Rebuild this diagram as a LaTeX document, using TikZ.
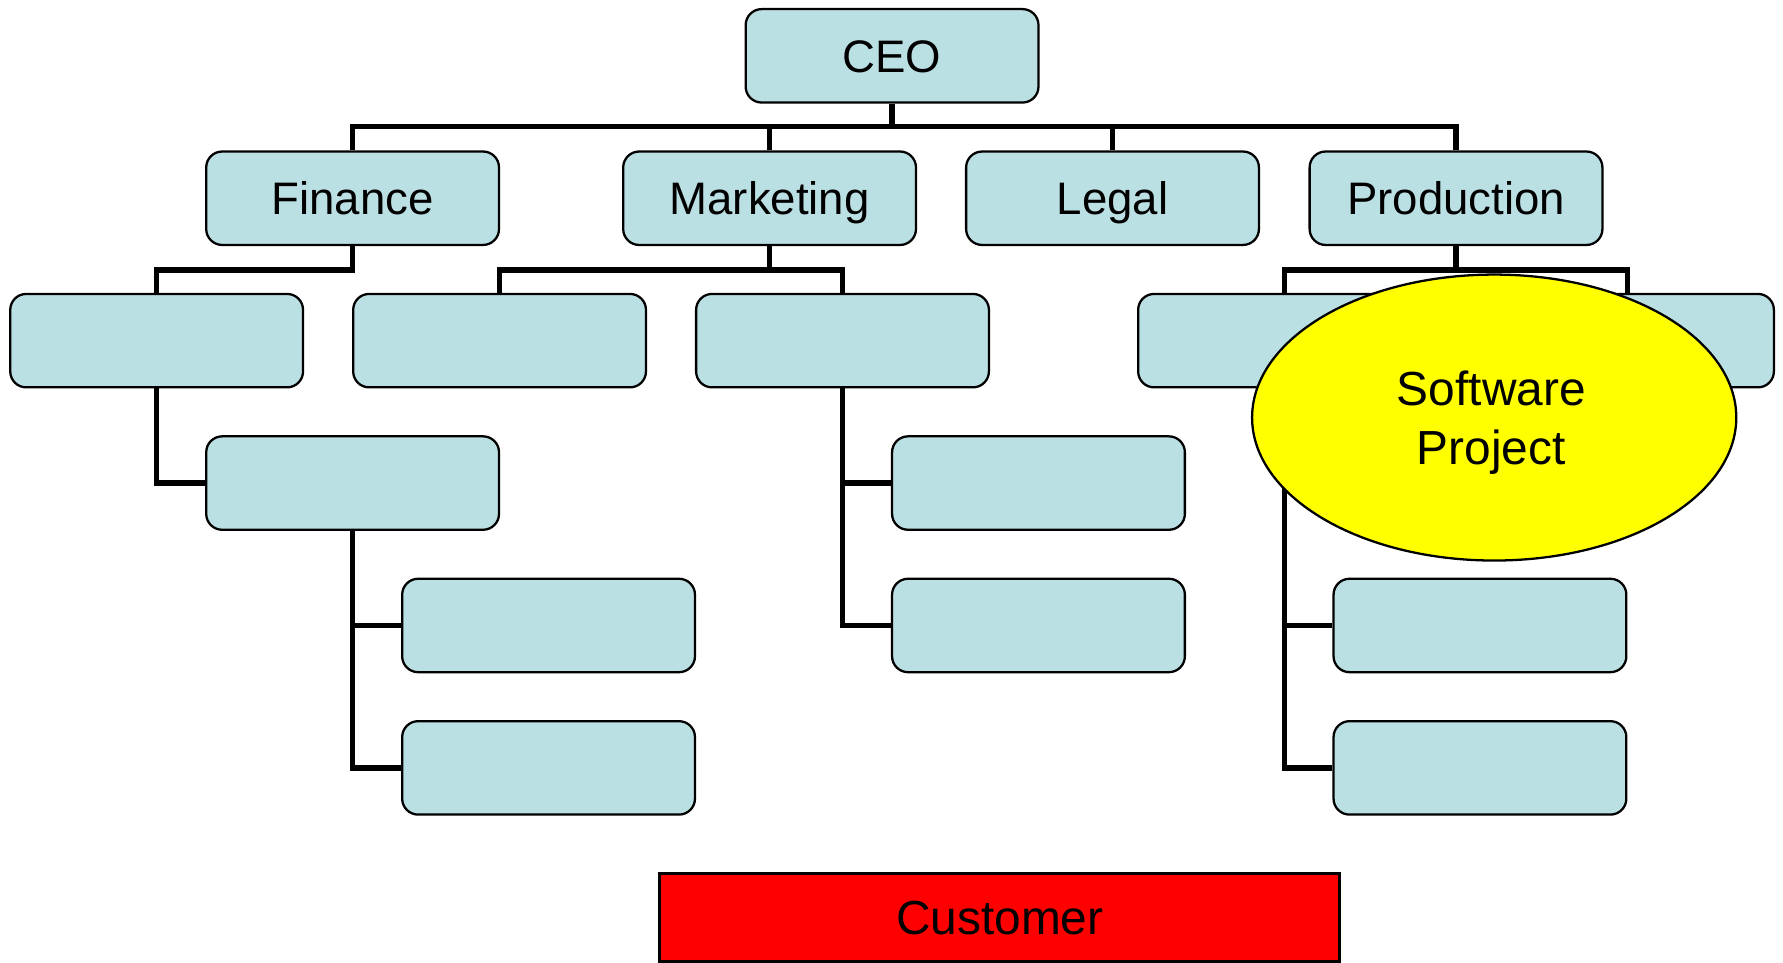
\documentclass[tikz,border=0pt]{standalone}
\usepackage{fontspec}
\setmainfont{Liberation Sans}
\usetikzlibrary{shapes.geometric}
\definecolor{boxfill}{RGB}{187,224,227}
\definecolor{swyellow}{RGB}{255,255,0}
\definecolor{custred}{RGB}{255,0,0}
\tikzset{
  orgbox/.style={draw=black, line width=1pt, fill=boxfill, rounded corners=7pt,
    minimum width=128.5pt, minimum height=41pt, inner sep=0pt,
    text height=14.4pt, text depth=0pt,
    font=\fontsize{20}{24}\selectfont},
  conn/.style={draw=black, line width=2.4pt},
}
\begin{document}
\begin{tikzpicture}[x=0.5pt,y=-0.5pt]
\useasboundingbox (0,0) rectangle (1565,845);
% boxes
\node[orgbox] (ceo) at (783,49) {CEO};
\node[orgbox] (fin) at (309.5,174) {Finance};
\node[orgbox] (mkt) at (675.5,174) {Marketing};
\node[orgbox] (leg) at (976.5,174) {Legal};
\node[orgbox] (prod) at (1278,174) {Production};
\node[orgbox] (a) at (137.5,299) {};
\node[orgbox] (b) at (438.5,299) {};
\node[orgbox] (c) at (739.5,299) {};
\node[orgbox] (d) at (1127.5,299) {};
\node[orgbox] (e) at (1428.5,299) {};
\node[orgbox] (f) at (309.5,424) {};
\node[orgbox] (g) at (911.5,424) {};
\node[orgbox] (h) at (481.5,549) {};
\node[orgbox] (i) at (911.5,549) {};
\node[orgbox] (j) at (1299,549) {};
\node[orgbox] (k) at (481.5,674) {};
\node[orgbox] (l) at (1299,674) {};
% connectors
\coordinate (b1) at (783,111);
\coordinate (bf) at (309.5,237);
\coordinate (bm) at (675.5,237);
\coordinate (bp) at (1278,237);
\draw[conn] (ceo.south) -- (b1);
\draw[conn] (fin.north) |- (b1) -| (prod.north);
\draw[conn] (mkt.north) -- (mkt.north |- b1);
\draw[conn] (leg.north) -- (leg.north |- b1);
\draw[conn] (fin.south) -- (bf) -| (a.north);
\draw[conn] (mkt.south) -- (bm);
\draw[conn] (b.north) |- (bm) -| (c.north);
\draw[conn] (prod.south) -- (bp);
\draw[conn] (d.north) |- (bp) -| (e.north);
\draw[conn] (a.south) |- (f.west);
\draw[conn] (f.south) |- (h.west);
\draw[conn] (f.south) |- (k.west);
\draw[conn] (c.south) |- (g.west);
\draw[conn] (c.south) |- (i.west);
\draw[conn] (d.south) |- (j.west);
\draw[conn] (d.south) |- (l.west);
% software project ellipse
\node[ellipse, draw=black, line width=1pt, fill=swyellow, minimum width=212.5pt,
  minimum height=125.5pt, inner sep=0pt] (sw) at (1311.5,366.5) {};
\node[align=center, inner sep=0pt, font=\fontsize{21}{26}\selectfont]
  (swtext) at (1309,371) {Software\\ Project};
% customer
\node[draw=black, line width=1.3pt, fill=custred, minimum width=298.5pt,
  minimum height=38.5pt, inner sep=0pt, font=\fontsize{21}{25}\selectfont]
  (cust) at (877.5,805.5) {Customer};
\end{tikzpicture}
\end{document}
